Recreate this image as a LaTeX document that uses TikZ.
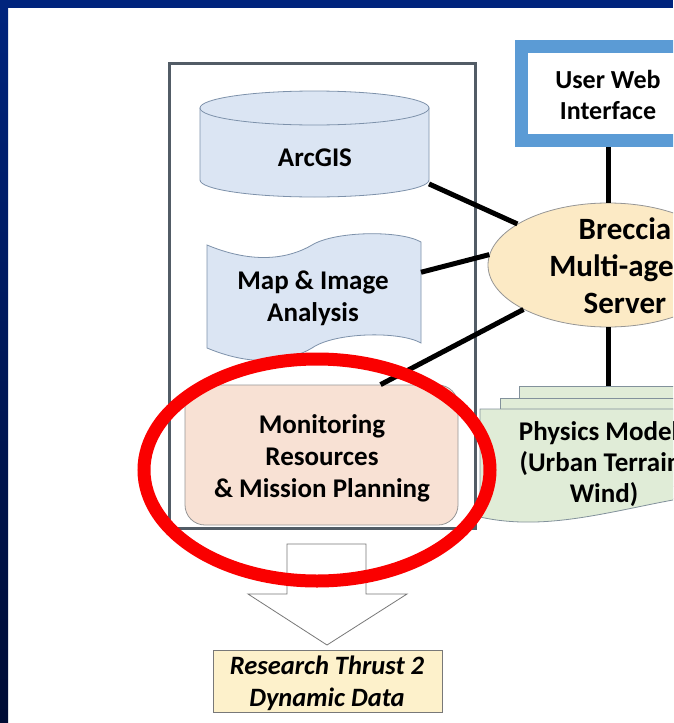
\documentclass[tikz,border=0pt]{standalone}
\usepackage{fontspec}
\setmainfont{Carlito}
\usetikzlibrary{shapes.geometric}

\definecolor{navyA}{RGB}{0,36,125}
\definecolor{navyB}{RGB}{0,12,52}
\definecolor{frameGray}{RGB}{82,92,102}
\definecolor{dbFill}{RGB}{219,229,243}
\definecolor{dbLine}{RGB}{125,145,170}
\definecolor{monFill}{RGB}{248,225,212}
\definecolor{softGray}{RGB}{150,150,150}
\definecolor{brFill}{RGB}{252,234,197}
\definecolor{phFill}{RGB}{224,236,215}
\definecolor{phLine}{RGB}{130,145,155}
\definecolor{uwBlue}{RGB}{91,155,213}
\definecolor{rtFill}{RGB}{253,241,203}
\definecolor{hlRed}{RGB}{250,0,0}
\definecolor{arrGray}{RGB}{120,120,120}

\tikzset{
  lbl/.style={font=\bfseries\fontsize{27}{32}\selectfont, align=center, inner sep=0pt},
  biglbl/.style={font=\bfseries\fontsize{31}{37}\selectfont, align=center, inner sep=0pt},
  phlbl/.style={font=\bfseries\fontsize{27}{31}\selectfont, align=center, inner sep=0pt},
  uwlbl/.style={font=\bfseries\fontsize{26}{31}\selectfont, align=center, inner sep=0pt},
  rtlbl/.style={font=\bfseries\itshape\fontsize{26.5}{32}\selectfont, align=center, inner sep=0pt},
  hotspot/.style={inner sep=0pt, outer sep=0pt, draw=none},
  conn/.style={line width=5pt, black},
  softline/.style={line width=0.8pt},
}

\begin{document}
\begin{tikzpicture}[x=1pt,y=-1pt]
\useasboundingbox (0,0) rectangle (673,723);
\clip (0,0) rectangle (673,723);
\fill[white] (0,0) rectangle (673,723);

% dark slide frame
\fill[navyA] (0,0) rectangle (673,8);
\shade[top color=navyA, bottom color=navyB] (0,8) rectangle (8,723);

% group frame
\node[draw=frameGray, line width=3pt, minimum width=306pt, minimum height=465pt, inner sep=0pt] (grp) at (322,295.5) {};

% ArcGIS cylinder
\filldraw[dbLine, fill=dbFill, softline] (200,108) -- (200,180) arc[start angle=180, end angle=360, x radius=114.5pt, y radius=17pt] -- (429,108) -- cycle;
\filldraw[dbLine, fill=dbFill, softline] (314.5,108) ellipse [x radius=114.5pt, y radius=17pt];
\node[hotspot, minimum width=229pt, minimum height=105pt] (cyl) at (314.5,144.5) {};
\node[lbl] (arcText) at (315,157.5) {ArcGIS};

% Map & Image Analysis (punched tape)
\filldraw[dbLine, fill=dbFill, softline] (207,245) .. controls (255,265) and (290,258) .. (312,245) .. controls (335,231) and (400,230) .. (421,242) -- (421,343) .. controls (400,331) and (335,332) .. (312,348) .. controls (290,361) and (255,368) .. (207,348) -- cycle;
\node[hotspot, minimum width=214pt, minimum height=100pt] (mapbox) at (314,295) {};
\node[lbl] (mapText) at (313,298) {Map \& Image\\Analysis};

% Monitoring
\node[draw=softGray, fill=monFill, rounded corners=20pt, minimum width=273pt, minimum height=140pt, inner sep=0pt, softline] (mon) at (321.5,455) {};
\node[lbl] (monText) at (322,458.5) {Monitoring\\Resources\\\& Mission Planning};

% Physics models (stacked documents)
\node[draw=phLine, fill=phFill, minimum width=248pt, minimum height=100pt, anchor=north west, inner sep=0pt, softline] (physBack) at (519,386) {};
\node[draw=phLine, fill=phFill, minimum width=248pt, minimum height=100pt, anchor=north west, inner sep=0pt, softline] (physMid) at (500,398) {};
\filldraw[phLine, fill=phFill, softline] (480,409) -- (728,409) -- (728,492) .. controls (640,500) and (560,535) .. (480,517) -- cycle;
\node[phlbl] (physText) at (604,464.5) {Physics Model\phantom{s}\\(Urban Terrain\phantom{,}\\Wind)};

% Breccia server
\node[ellipse, draw=softGray, fill=brFill, minimum width=240pt, minimum height=124pt, inner sep=0pt, softline] (bre) at (608,265) {};
\node[biglbl] (breText) at (625,265.5) {Breccia\\Multi-age\phantom{nt}\\Server};

% User web interface
\node[draw=uwBlue, fill=white, line width=13pt, minimum width=173pt, minimum height=94pt, inner sep=0pt] (uwi) at (608,93.5) {};
\node[uwlbl] (uwiText) at (608,95) {User Web\\Interface};

% connectors
\draw[conn] (cyl.-19.5) -- (bre);
\draw[conn] (mapbox.12) -- (bre.175);
\draw[conn] (mon.50) -- (bre);
\draw[conn] (uwi.south) -- (bre.north);
\draw[conn] (bre.south) -- (bre.south |- physBack.north);

% block arrow
\draw[arrGray, fill=white, softline] (287,544) -- (366,544) -- (366,594) -- (407,594) -- (327,645) -- (248,594) -- (287,594) -- cycle;

% research thrust
\node[draw=arrGray, fill=rtFill, minimum width=229pt, minimum height=62pt, inner sep=0pt, line width=1pt] (rt) at (327.5,681) {};
\node[rtlbl] (rtText) at (327,683) {Research Thrust 2\\Dynamic Data};

% red highlight
\draw[hlRed, line width=13pt] (317,470) ellipse [x radius=173pt, y radius=111pt];
\end{tikzpicture}
\end{document}
